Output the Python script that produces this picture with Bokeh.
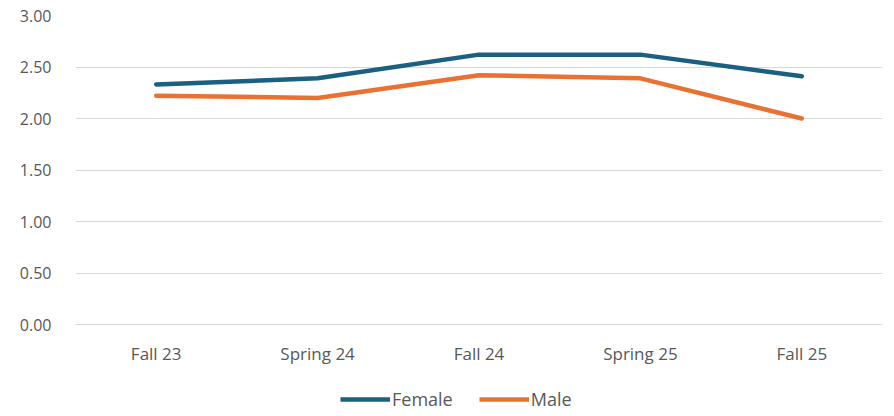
from bokeh.plotting import figure
from bokeh.layouts import column
from bokeh.models import FixedTicker, NumeralTickFormatter, Legend, LegendItem, Range1d
from bokeh.embed import file_html
from bokeh.resources import INLINE

terms = ["Fall 23", "Spring 24", "Fall 24", "Spring 25", "Fall 25"]
female = [2.33, 2.39, 2.62, 2.62, 2.41]
male = [2.22, 2.20, 2.42, 2.39, 2.00]
y_ticks = [0, 0.5, 1.0, 1.5, 2.0, 2.5, 3.0]
series = ["Female", "Male"]
colors = ["#1B5F82", "#E97132"]

FONT = "Open Sans"
TXT = "#595959"

p = figure(x_range=terms, y_range=Range1d(0, 3), frame_width=807, frame_height=309,
           output_backend="svg", toolbar_location=None,
           min_border_left=75, min_border_right=12, min_border_top=15, min_border_bottom=48)
p.outline_line_color = None
p.background_fill_color = "white"

p.line(terms, female, line_color=colors[0], line_width=4.5, line_cap="round", line_join="round")
p.line(terms, male, line_color=colors[1], line_width=4.5, line_cap="round", line_join="round")

p.yaxis.ticker = FixedTicker(ticks=y_ticks)
p.yaxis.formatter = NumeralTickFormatter(format="0.00")
p.yaxis.axis_line_color = None
p.yaxis.major_tick_line_color = None
p.yaxis.minor_tick_line_color = None
p.yaxis.major_label_standoff = 18
p.yaxis.major_label_text_font_size = "16px"
p.xaxis.axis_line_color = "#d9d9d9"
p.xaxis.major_tick_line_color = None
p.xaxis.major_label_standoff = 11
p.xaxis.major_label_text_font_size = "17px"
for ax in (p.xaxis, p.yaxis):
    ax.major_label_text_font = FONT
    ax.major_label_text_color = TXT

p.xgrid.grid_line_color = None
p.ygrid.grid_line_color = "#d9d9d9"
p.ygrid.grid_line_width = 1.2

# legend strip below the chart (its lines sit outside the visible range)
lg = figure(x_range=terms, y_range=Range1d(0, 1), frame_width=894, frame_height=44,
            output_backend="svg", toolbar_location=None,
            x_axis_type=None, y_axis_type=None, min_border=0)
lg.outline_line_color = None
lg.xgrid.grid_line_color = None
lg.ygrid.grid_line_color = None
items = []
for name, c, vals in zip(series, colors, [female, male]):
    r = lg.line(terms, vals, line_color=c, line_width=4.5)
    items.append(LegendItem(label=name, renderers=[r]))
legend = Legend(items=items, orientation="horizontal", location=(340, 5),
                label_text_font=FONT, label_text_font_size="18px", label_text_color=TXT,
                glyph_width=50, glyph_height=20, spacing=26, label_standoff=2,
                border_line_color=None, background_fill_alpha=0, margin=0, padding=0)
lg.add_layout(legend, "center")

layout = column(p, lg, spacing=0)
open("out.html", "w").write(file_html(layout, INLINE))
